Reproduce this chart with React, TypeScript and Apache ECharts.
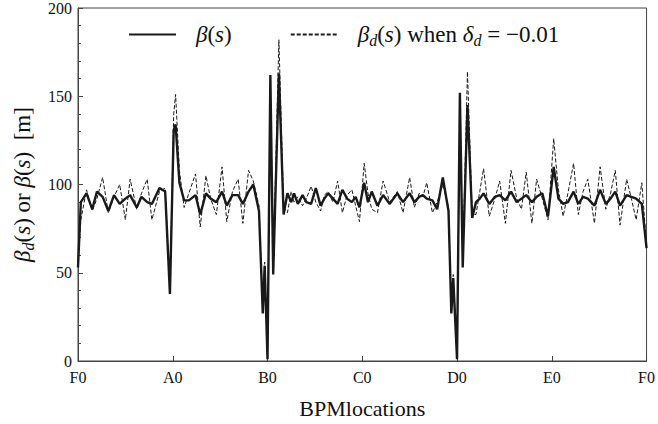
import React, { useEffect, useRef } from "react";
import * as echarts from "echarts";

// BPM position along the ring (100 units per sector, F0=0, A0=100, ... F0=600)
const bpmPos = [
  0, 3, 9, 15, 20, 26, 32, 38, 44, 50, 55, 62, 67, 73, 78, 86, 92, 97, 101, 103,
  107, 112, 117, 124, 129, 135, 140, 146, 152, 157, 163, 169, 174, 180, 185, 191, 195, 197, 200, 203, 206, 212,
  217, 221, 225, 228, 232, 237, 241, 246, 251, 256, 260, 264, 269, 274, 279, 284, 289, 293, 297, 302,
  306, 310, 316, 322, 329, 337, 343, 350, 355, 360, 364, 368, 374, 379, 385, 391, 394, 396, 400, 403, 406, 411, 416,
  420, 424, 428, 434, 440, 445, 451, 457, 463, 468, 473, 479, 484, 490, 496,
  502, 507, 512, 517, 523, 528, 533, 538, 545, 551, 557, 562, 567, 572, 579, 584, 589, 595, 600,
];

// beta(s) [m]
const betaValues = [
  53, 90, 95, 86, 96, 93, 85, 94, 89, 92, 94, 87, 93, 90, 89, 98, 96, 38, 131, 134,
  101, 91, 91, 94, 83, 95, 92, 90, 96, 88, 94, 94, 89, 96, 100, 85, 27, 54, 1, 162, 49, 163,
  83, 95, 90, 95, 89, 94, 90, 89, 98, 88, 92, 95, 92, 89, 97, 92, 90, 93, 87, 101,
  90, 96, 88, 94, 89, 95, 90, 95, 90, 93, 94, 92, 91, 86, 104, 85, 27, 47, 1, 152, 53, 145, 81,
  90, 92, 95, 89, 93, 94, 91, 96, 90, 92, 94, 90, 93, 95, 82,
  110, 92, 89, 90, 96, 89, 93, 92, 88, 97, 89, 92, 96, 88, 94, 93, 92, 89, 64,
];

// beta_d(s) [m] when delta_d = -0.01
const betaDValues = [
  56, 80, 97, 85, 92, 104, 84, 93, 100, 80, 103, 86, 95, 103, 80, 96, 98, 40, 140, 151,
  108, 87, 95, 106, 76, 105, 92, 83, 110, 79, 96, 103, 78, 108, 102, 88, 28, 56, 2, 158, 51, 182,
  87, 84, 96, 90, 93, 88, 92, 99, 90, 85, 94, 96, 90, 102, 84, 94, 97, 88, 79, 112,
  95, 86, 84, 102, 90, 96, 84, 104, 87, 95, 93, 101, 84, 90, 100, 87, 28, 49, 2, 150, 55, 164, 83,
  83, 96, 109, 82, 92, 102, 78, 108, 92, 86, 107, 78, 103, 92, 80,
  126, 97, 82, 95, 112, 83, 96, 103, 78, 110, 86, 95, 108, 77, 103, 92, 80, 101, 65,
];

const sectorLabels = ["F0", "A0", "B0", "C0", "D0", "E0", "F0"];
const yTicks = [0, 50, 100, 150, 200];

const SERIF = "Liberation Serif";

export default function App() {
  const ref = useRef<HTMLDivElement>(null);
  useEffect(() => {
    if (!ref.current) return;
    const chart = echarts.init(ref.current, undefined, { renderer: "svg" });
    const solidData = bpmPos.map((p, i) => [p, betaValues[i]]);
    const dashedData = bpmPos.map((p, i) => [p, betaDValues[i]]);
    const mkRich = (fs: number) => ({
      it: { fontStyle: "italic", fontFamily: SERIF, fontSize: fs, color: "#111", lineHeight: fs + 4 },
      sub: {
        fontStyle: "italic",
        fontFamily: SERIF,
        fontSize: Math.round(fs * 0.7),
        color: "#111",
        verticalAlign: "bottom",
        lineHeight: Math.round(fs * 0.45),
      },
      n: { fontFamily: SERIF, fontSize: fs, color: "#111", lineHeight: fs + 4 },
    });
    const legendNames: Record<string, string> = {
      beta: "{it|β}{n|(}{it|s}{n|)}",
      betad: "{it|β}{sub|d}{n|(}{it|s}{n|) when }{it|δ}{sub|d}{n| = −0.01}",
    };
    chart.setOption({
      animation: false,
      backgroundColor: "#fff",
      textStyle: { fontFamily: SERIF },
      grid: {
        left: 78,
        right: 8,
        top: 5,
        bottom: 63,
        show: true,
        borderColor: "#444",
        borderWidth: 1,
        backgroundColor: "transparent",
      },
      legend: {
        data: [
          { name: "beta", itemStyle: { opacity: 0 } },
          { name: "betad", itemStyle: { opacity: 0 } },
        ],
        left: 123,
        top: 18,
        itemWidth: 47,
        itemHeight: 14,
        itemGap: 58,
        formatter: (name: string) => legendNames[name],
        textStyle: { fontFamily: SERIF, fontSize: 23, color: "#111", rich: mkRich(23), padding: [0, 0, 0, 15] },
      },
      xAxis: {
        type: "value",
        min: 0,
        max: 600,
        interval: 100,
        name: "BPMlocations",
        nameLocation: "middle",
        nameGap: 36,
        nameTextStyle: { fontFamily: SERIF, fontSize: 22, color: "#111" },
        axisLine: { show: true, lineStyle: { color: "#444", width: 1 } },
        axisTick: { show: true, inside: true, length: 5, lineStyle: { color: "#444" } },
        axisLabel: {
          fontFamily: SERIF,
          fontSize: 16,
          color: "#111",
          margin: 8,
          formatter: (v: number) => sectorLabels[Math.round(v / 100)] ?? "",
        },
        splitLine: { show: false },
      },
      yAxis: {
        type: "value",
        min: yTicks[0],
        max: yTicks[yTicks.length - 1],
        interval: 50,
        name: "{it|β}{sub|d}{n|(}{it|s}{n|) or }{it|β}{n|(}{it|s}{n|)  [m]}",
        nameLocation: "middle",
        nameGap: 42,
        nameRotate: 90,
        nameTextStyle: { fontFamily: SERIF, fontSize: 23, color: "#111", rich: mkRich(23) },
        axisLine: { show: true, lineStyle: { color: "#444", width: 1 } },
        axisTick: { show: true, inside: true, length: 5, lineStyle: { color: "#444" } },
        minorTick: { show: true, splitNumber: 5, length: 3, lineStyle: { color: "#444" } },
        axisLabel: { fontFamily: SERIF, fontSize: 16, color: "#111", margin: 6 },
        splitLine: { show: false },
      },
      series: [
        {
          name: "beta",
          type: "line",
          data: solidData,
          showSymbol: false,
          symbol: "none",
          z: 3,
          lineStyle: { color: "#1a1a1a", width: 2.4, type: "solid" },
          itemStyle: { color: "#1a1a1a" },
        },
        {
          name: "betad",
          type: "line",
          data: dashedData,
          showSymbol: false,
          symbol: "none",
          z: 4,
          lineStyle: { color: "#1a1a1a", width: 1, type: [4, 2] },
          itemStyle: { color: "#1a1a1a" },
        },
      ],
    });
    return () => chart.dispose();
  }, []);
  return (
    <div
      ref={ref}
      style={{ position: "fixed", left: 0, top: 0, width: 658, height: 424 }}
    />
  );
}
